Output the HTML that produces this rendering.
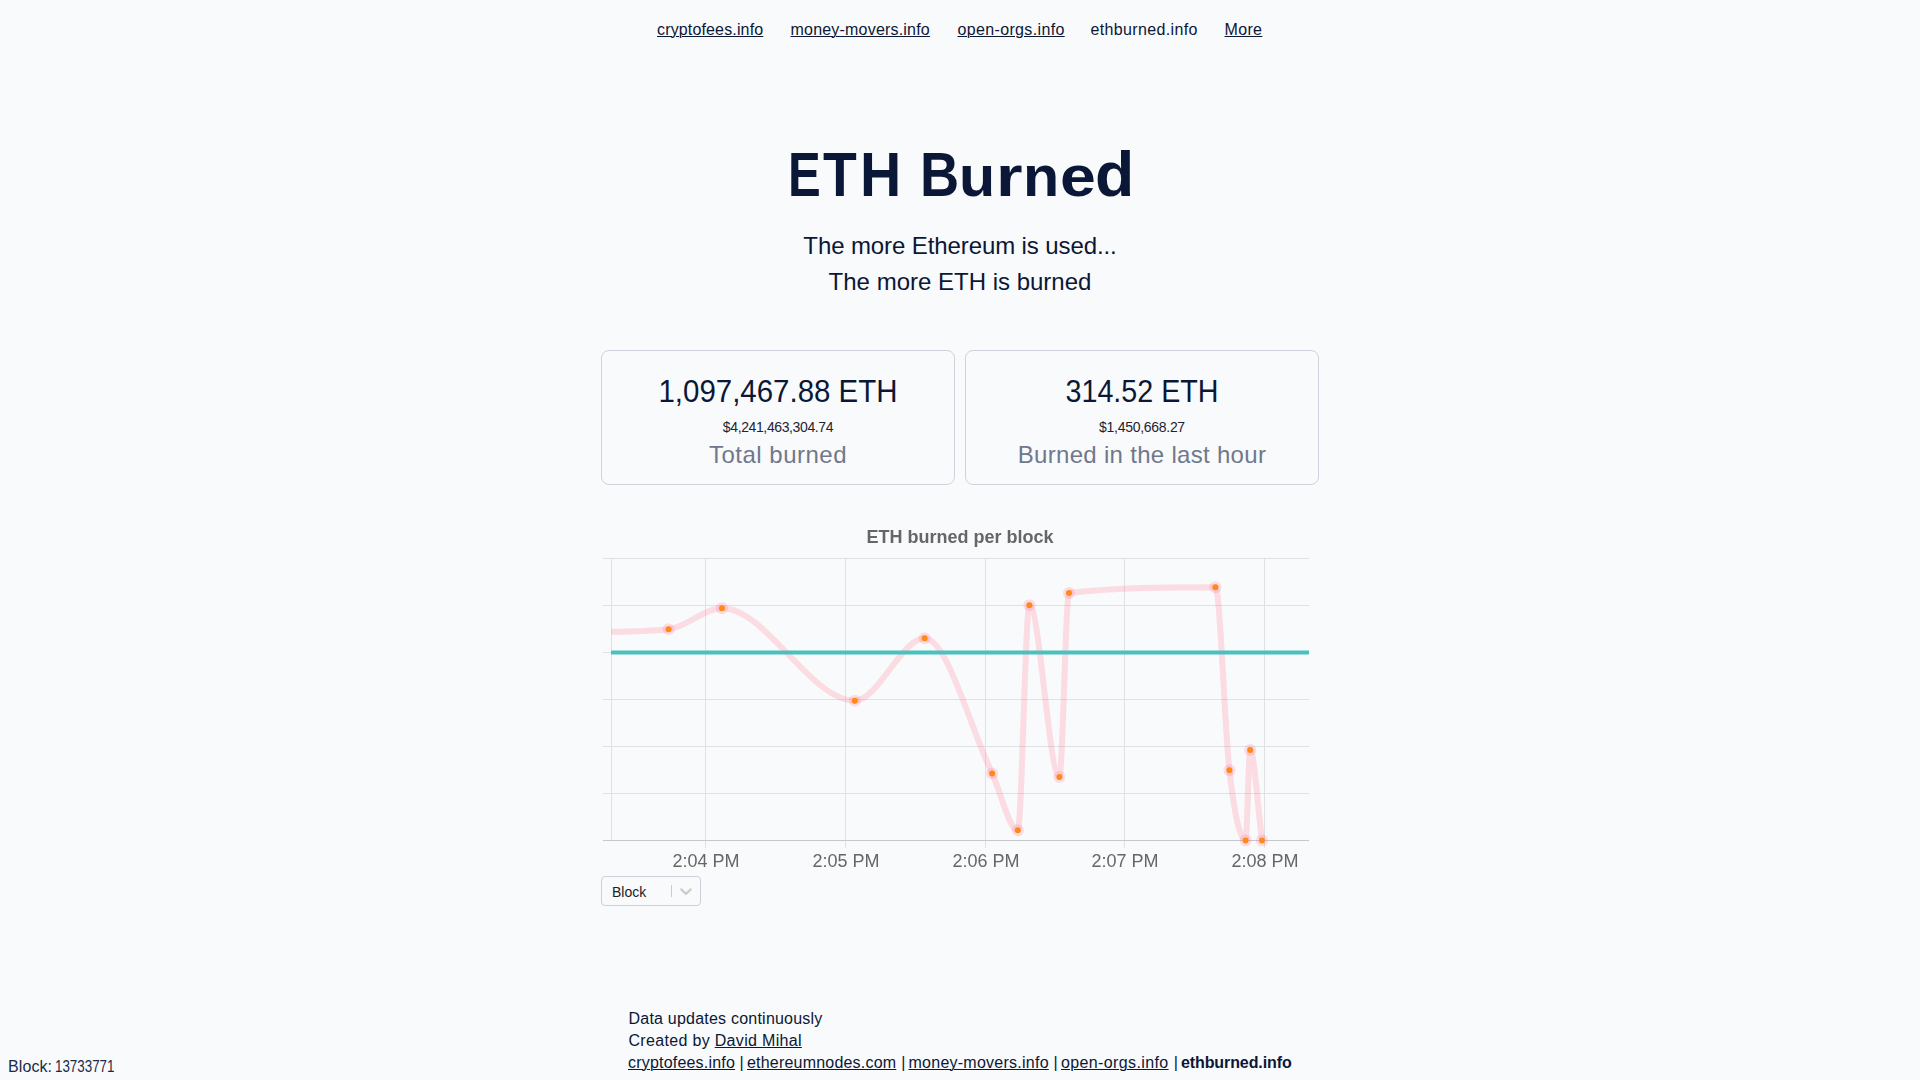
<!DOCTYPE html>
<html>
<head>
<meta charset="utf-8">
<title>ETH Burned</title>
<style>
html,body{margin:0;padding:0;}
body{width:1920px;height:1080px;overflow:hidden;background:#f9fafb;font-family:"Liberation Sans",sans-serif;color:#0b1736;position:relative;}
.t{position:absolute;white-space:nowrap;line-height:1;}
.c{text-align:center;width:1000px;}
a{color:inherit;text-decoration:underline;text-decoration-thickness:1px;text-underline-offset:1px;}
.nav{font-size:16px;top:22px;letter-spacing:0.35px;}
.card{position:absolute;top:350px;width:352px;height:133px;border:1px solid #cfd2dc;border-radius:8px;}
.big{font-size:31px;top:376.2px;color:#0b1736;}
.usd{font-size:14px;top:420px;color:#1d2333;}
.lbl{font-size:24px;top:442.5px;color:#6f788c;}
.xl{font-size:18px;top:851.5px;color:#666;will-change:transform;}
.ft{font-size:16px;color:#0b1736;}
.ttl span{position:absolute;top:142px;font-size:64px;font-weight:bold;line-height:1;transform-origin:0 54px;white-space:nowrap;}
</style>
</head>
<body>
<!-- top nav -->
<div class="t nav" style="left:657px;letter-spacing:0.15px"><a>cryptofees.info</a></div>
<div class="t nav" style="left:790.5px;letter-spacing:0.2px"><a>money-movers.info</a></div>
<div class="t nav" style="left:957.5px"><a>open-orgs.info</a></div>
<div class="t nav" style="left:1090.5px">ethburned.info</div>
<div class="t nav" style="left:1224.5px"><a>More</a></div>

<!-- title -->
<div class="ttl">
<span style="left:787.73px;transform:scale(0.7667,0.97)">E</span>
<span style="left:822.74px;transform:scale(0.8632,0.97)">T</span>
<span style="left:859.63px;transform:scale(0.8921,0.97)">H</span>
<span style="left:919.82px;transform:scale(0.8462,0.97)">B</span>
<span style="left:958.70px;transform:scale(0.9258,0.89)">u</span>
<span style="left:995.74px;transform:scale(1.0650,0.89)">r</span>
<span style="left:1022.50px;transform:scale(0.9258,0.89)">n</span>
<span style="left:1059.79px;transform:scale(1.0065,0.89)">e</span>
<span style="left:1095.38px;transform:scale(1.0062,0.98)">d</span>
</div>
<div class="t c" style="left:460px;top:233.7px;font-size:24px;letter-spacing:-0.1px;">The more Ethereum is used...</div>
<div class="t c" style="left:460px;top:269.7px;font-size:24px;">The more ETH is burned</div>

<!-- cards -->
<div class="card" style="left:601px"></div>
<div class="card" style="left:965px"></div>
<div class="t c big" style="left:278px;transform:scaleX(0.95);">1,097,467.88 ETH</div>
<div class="t c usd" style="left:278px;letter-spacing:-0.38px;">$4,241,463,304.74</div>
<div class="t c lbl" style="left:278px;letter-spacing:0.49px;">Total burned</div>
<div class="t c big" style="left:642px;transform:scaleX(0.925);">314.52 ETH</div>
<div class="t c usd" style="left:642px;letter-spacing:-0.29px;">$1,450,668.27</div>
<div class="t c lbl" style="left:642px;letter-spacing:0.3px;">Burned in the last hour</div>

<!-- chart title -->

<!-- chart -->
<svg style="position:absolute;left:0;top:0" width="1920" height="1080" viewBox="0 0 1920 1080">
<defs><clipPath id="ca"><rect x="611" y="558" width="698" height="283"/></clipPath></defs>
<g stroke="#e0e1e2" stroke-width="1" fill="none" shape-rendering="crispEdges">
<path d="M603 558.5H1309M603 605.5H1309M603 652.5H1309M603 699.5H1309M603 746.5H1309M603 793.5H1309"/>
<path d="M611.5 558V840M705.5 558V848M845.5 558V848M985.5 558V848M1124.5 558V848M1264.5 558V848"/>
</g>
<path d="M603 840.5H1309" stroke="#c7c8c9" stroke-width="1" shape-rendering="crispEdges"/>
<g clip-path="url(#ca)">
<path id="pk" d="M575.00 632.30 C606.20 631.82 637.40 632.26 668.60 629.20 C686.40 627.45 704.20 608.20 722.00 608.20 C766.27 608.20 810.53 700.70 854.80 700.70 C878.07 700.70 901.33 638.30 924.60 638.30 C947.10 638.30 969.60 726.02 992.10 773.40 C1000.67 791.44 1009.23 830.20 1017.80 830.20 C1021.67 830.20 1025.53 605.20 1029.40 605.20 C1039.40 605.20 1049.40 776.90 1059.40 776.90 C1062.60 776.90 1065.80 593.38 1069.00 593.00 C1117.80 587.20 1166.60 587.20 1215.40 587.20 C1220.07 587.20 1224.73 729.59 1229.40 770.20 C1234.80 817.19 1240.20 840.40 1245.60 840.40 C1247.13 840.40 1248.67 750.00 1250.20 750.00 C1254.13 750.00 1258.07 810.27 1262.00 840.40" fill="none" stroke="rgba(255,99,132,0.2)" stroke-width="6" stroke-linejoin="round"/>
<path d="M611 652.5H1309" stroke="#4bc0c0" stroke-width="4"/>
</g>
<g fill="rgba(255,99,132,0.2)">
<circle cx="668.6" cy="629.2" r="6"/>
<circle cx="722.0" cy="608.2" r="6"/>
<circle cx="854.8" cy="700.7" r="6"/>
<circle cx="924.6" cy="638.3" r="6"/>
<circle cx="992.1" cy="773.4" r="6"/>
<circle cx="1017.8" cy="830.2" r="6"/>
<circle cx="1029.4" cy="605.2" r="6"/>
<circle cx="1059.4" cy="776.9" r="6"/>
<circle cx="1069.0" cy="593.0" r="6"/>
<circle cx="1215.4" cy="587.2" r="6"/>
<circle cx="1229.4" cy="770.2" r="6"/>
<circle cx="1245.6" cy="840.4" r="6"/>
<circle cx="1250.2" cy="750.0" r="6"/>
<circle cx="1262.0" cy="840.4" r="6"/>
</g>
<g fill="#fd8a1a">
<circle cx="668.6" cy="629.2" r="3"/>
<circle cx="722.0" cy="608.2" r="3"/>
<circle cx="854.8" cy="700.7" r="3"/>
<circle cx="924.6" cy="638.3" r="3"/>
<circle cx="992.1" cy="773.4" r="3"/>
<circle cx="1017.8" cy="830.2" r="3"/>
<circle cx="1029.4" cy="605.2" r="3"/>
<circle cx="1059.4" cy="776.9" r="3"/>
<circle cx="1069.0" cy="593.0" r="3"/>
<circle cx="1215.4" cy="587.2" r="3"/>
<circle cx="1229.4" cy="770.2" r="3"/>
<circle cx="1245.6" cy="840.4" r="3"/>
<circle cx="1250.2" cy="750.0" r="3"/>
<circle cx="1262.0" cy="840.4" r="3"/>
</g>
</svg>


<!-- dropdown -->
<div style="position:absolute;left:601px;top:876px;width:98px;height:28px;border:1px solid #ccd0d9;border-radius:4px;"></div>
<div class="t" style="left:612px;top:884.8px;font-size:14px;color:#222;">Block</div>
<div style="position:absolute;left:671px;top:885px;width:1px;height:12px;background:#ccc;"></div>
<svg style="position:absolute;left:675.8px;top:881px" width="20" height="20" viewBox="0 0 20 20"><path fill="#ccc" d="M4.516 7.548c0.436-0.446 1.043-0.481 1.576 0l3.908 3.747 3.908-3.747c0.533-0.481 1.141-0.446 1.574 0 0.436 0.445 0.408 1.197 0 1.615-0.406 0.418-4.695 4.502-4.695 4.502-0.217 0.223-0.502 0.335-0.787 0.335s-0.57-0.112-0.789-0.335c0 0-4.287-4.084-4.695-4.502s-0.436-1.17 0-1.615z"/></svg>

<!-- footer -->
<div class="t ft" style="left:628.5px;top:1010.5px;letter-spacing:0.22px;">Data updates continuously</div>
<div class="t ft" style="left:628.5px;top:1033px;letter-spacing:0.32px;">Created by <a>David Mihal</a></div>
<div class="t ft" style="left:628px;top:1055.3px;letter-spacing:0.2px;"><a>cryptofees.info</a></div>
<div class="t ft" style="left:739.5px;top:1055.3px;">|</div>
<div class="t ft" style="left:747px;top:1055.3px;letter-spacing:0.2px;"><a>ethereumnodes.com</a></div>
<div class="t ft" style="left:901.3px;top:1055.3px;">|</div>
<div class="t ft" style="left:908.5px;top:1055.3px;letter-spacing:0.25px;"><a>money-movers.info</a></div>
<div class="t ft" style="left:1053.6px;top:1055.3px;">|</div>
<div class="t ft" style="left:1061px;top:1055.3px;letter-spacing:0.38px;"><a>open-orgs.info</a></div>
<div class="t ft" style="left:1173.8px;top:1055.3px;">|</div>
<div class="t ft" style="left:1181px;top:1055.3px;font-weight:bold;letter-spacing:-0.1px;">ethburned.info</div>

<div class="t" style="left:8px;top:1059px;font-size:16px;letter-spacing:0.1px;color:#1c2a4a;">Block:</div>
<div class="t" style="left:55.2px;top:1059px;font-size:16px;color:#1c2a4a;transform:scaleX(0.835);transform-origin:0 0;">13733771</div>
<!-- canvas-like text (grayscale AA) -->
<div class="t c" style="left:460px;top:528px;font-size:18px;font-weight:bold;color:#666;will-change:transform;">ETH burned per block</div>
<!-- x labels -->
<div class="t c xl" style="left:205.5px">2:04 PM</div>
<div class="t c xl" style="left:345.5px">2:05 PM</div>
<div class="t c xl" style="left:485.5px">2:06 PM</div>
<div class="t c xl" style="left:624.5px">2:07 PM</div>
<div class="t c xl" style="left:764.5px">2:08 PM</div>
</body>
</html>
